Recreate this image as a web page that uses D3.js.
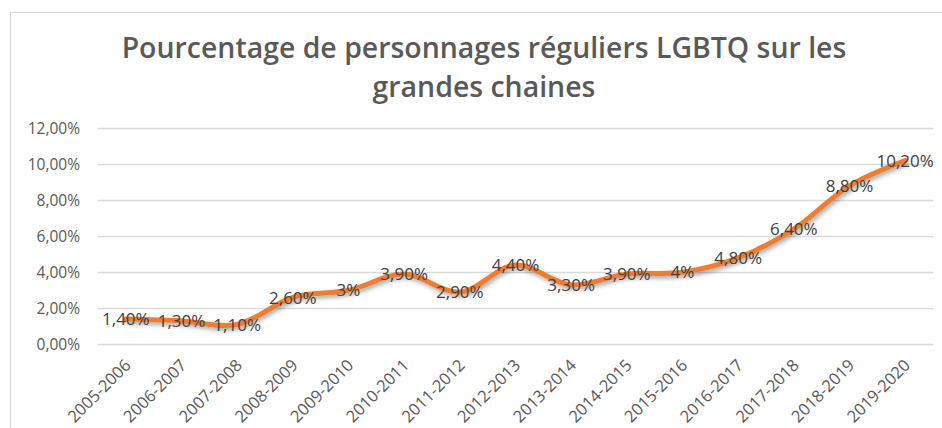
<!DOCTYPE html>
<html><head><meta charset="utf-8">
<script src="https://cdn.jsdelivr.net/npm/d3@7/dist/d3.min.js"></script>
<style>body{margin:0;background:#fff;} svg{display:block;}</style>
</head><body>
<svg id="c" width="942" height="428"></svg>
<script>
const categories = ["2005-2006","2006-2007","2007-2008","2008-2009","2009-2010","2010-2011","2011-2012","2012-2013","2013-2014","2014-2015","2015-2016","2016-2017","2017-2018","2018-2019","2019-2020"];
const values = [1.4,1.3,1.1,2.6,3,3.9,2.9,4.4,3.3,3.9,4,4.8,6.4,8.8,10.2];
const valueLabels = ["1,40%","1,30%","1,10%","2,60%","3%","3,90%","2,90%","4,40%","3,30%","3,90%","4%","4,80%","6,40%","8,80%","10,20%"];
const yTicks = [0,2,4,6,8,10,12];
const yTickLabels = ["0,00%","2,00%","4,00%","6,00%","8,00%","10,00%","12,00%"];
const titleLines = ["Pourcentage de personnages réguliers LGBTQ sur les","grandes chaines"];

(function(){
const svg = d3.select("#c");
const font = "'Open Sans', 'Noto Sans', sans-serif";
const pLeft = 98, pRight = 933, pTop = 128.3, pBottom = 344.3;

// chart border
svg.append("path").attr("d","M10.5,428 V12.5 H942").attr("fill","none").attr("stroke","#d9d9d9").attr("stroke-width",1);

// title
const title = svg.append("text").attr("x",484).attr("text-anchor","middle")
  .attr("font-family",font).attr("font-weight",600).attr("fill","#595959");
title.selectAll("tspan").data(titleLines).join("tspan")
  .attr("x",484).attr("y",(d,i)=>58+i*39).text(d=>d);
title.attr("font-size",26);
const w = title.select("tspan").node().getComputedTextLength();
title.attr("font-size",26*725/w);

const x = d3.scaleBand().domain(categories).range([pLeft,pRight]);
const y = d3.scaleLinear().domain([0,12]).range([pBottom,pTop]);

// gridlines
svg.append("g").selectAll("line").data(yTicks).join("line")
  .attr("x1",pLeft).attr("x2",pRight)
  .attr("y1",d=>Math.round(y(d))+0.5).attr("y2",d=>Math.round(y(d))+0.5)
  .attr("stroke","#d9d9d9").attr("stroke-width",1.3);

// y axis
const yAxis = d3.axisLeft(y).tickValues(yTicks).tickFormat((d,i)=>yTickLabels[i]).tickSize(0).tickPadding(0);
const gy = svg.append("g").attr("transform",`translate(80,0)`).call(yAxis);
gy.select(".domain").remove();
gy.selectAll("text").attr("font-family",font).attr("font-size",15.5).attr("fill","#595959").attr("dy","0.35em");

// x axis
const xAxis = d3.axisBottom(x).tickSize(0).tickPadding(0);
const gx = svg.append("g").attr("transform",`translate(0,${pBottom})`).call(xAxis);
gx.select(".domain").remove();
gx.selectAll("text").attr("font-family",font).attr("font-size",16.5).attr("fill","#595959")
  .attr("text-anchor","end").attr("dy",null).attr("y",0)
  .attr("transform","translate(6,22) rotate(-45)");

// shadow filter
const defs = svg.append("defs");
const f = defs.append("filter").attr("id","sh").attr("x","-10%").attr("y","-30%").attr("width","120%").attr("height","160%");
f.append("feDropShadow").attr("dx",1.5).attr("dy",2.5).attr("stdDeviation",2).attr("flood-color","#000").attr("flood-opacity",0.35);

const line = d3.line().x((d,i)=>x(categories[i])+x.bandwidth()/2).y(d=>y(d)).curve(d3.curveCatmullRom.alpha(0.5));
svg.append("path").datum(values).attr("d",line).attr("fill","none")
  .attr("stroke","#ED7D31").attr("stroke-width",5).attr("stroke-linejoin","round").attr("stroke-linecap","round")
  .attr("filter","url(#sh)");

// data labels
svg.append("g").selectAll("text").data(values).join("text")
  .attr("x",(d,i)=>x(categories[i])+x.bandwidth()/2)
  .attr("y",d=>y(d)).attr("dy","0.36em")
  .attr("text-anchor","middle").attr("font-family",font).attr("font-size",17).attr("fill","#404040")
  .text((d,i)=>valueLabels[i]);
})();
</script>
</body></html>
